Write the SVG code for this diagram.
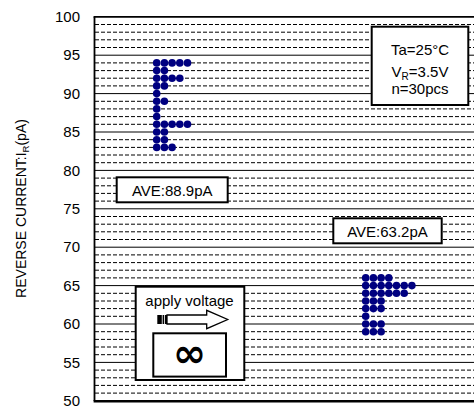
<svg xmlns="http://www.w3.org/2000/svg" width="474" height="410" viewBox="0 0 474 410">
<style>
text{font-family:"Liberation Sans",Arial,sans-serif;fill:#000}
.tick{font-size:15px;text-anchor:end}
.dash{stroke:#000;stroke-width:1;stroke-dasharray:4 2;fill:none}
.solid{stroke:#000;stroke-width:1;fill:none}
.box{fill:#fff;stroke:#000;stroke-width:2}
.dot{fill:#000080}
.lbl{font-size:15px;text-anchor:middle}
</style>
<rect width="474" height="410" fill="#fff"/>
<g id="grid">
<path class="dash" d="M95 24.5H474M95 32.2H474M95 39.8H474M95 47.5H474M95 62.9H474M95 70.6H474M95 78.2H474M95 85.9H474M95 101.3H474M95 108.9H474M95 116.6H474M95 124.3H474M95 139.7H474M95 147.4H474M95 155.0H474M95 162.7H474M95 178.1H474M95 185.8H474M95 193.4H474M95 201.1H474M95 216.5H474M95 224.2H474M95 231.8H474M95 239.5H474M95 254.9H474M95 262.6H474M95 270.2H474M95 277.9H474M95 293.3H474M95 301.0H474M95 308.6H474M95 316.3H474M95 331.7H474M95 339.4H474M95 347.0H474M95 354.7H474M95 370.1H474M95 377.8H474M95 385.4H474M95 393.1H474"/>
<path class="solid" d="M95 55.2H474M95 93.6H474M95 132.0H474M95 170.4H474M95 208.8H474M95 247.2H474M95 285.6H474M95 324.0H474M95 362.4H474"/>
</g>
<g id="axes">
<path d="M94.5 16.8V401" stroke="#000" stroke-width="1.8" fill="none"/>
<path d="M93.6 16.8H474" stroke="#000" stroke-width="1.8" fill="none"/>
<path d="M93.6 401.2H474" stroke="#000" stroke-width="2.6" fill="none"/>
</g>
<g id="ticks">
<text class="tick" x="80" y="22">100</text>
<text class="tick" x="80" y="60.4">95</text>
<text class="tick" x="80" y="98.8">90</text>
<text class="tick" x="80" y="137.2">85</text>
<text class="tick" x="80" y="175.6">80</text>
<text class="tick" x="80" y="214">75</text>
<text class="tick" x="80" y="252.4">70</text>
<text class="tick" x="80" y="290.8">65</text>
<text class="tick" x="80" y="329.2">60</text>
<text class="tick" x="80" y="367.6">55</text>
<text class="tick" x="80" y="406">50</text>
</g>
<text id="ytitle" transform="translate(26 208.5) rotate(-90)" font-size="14" text-anchor="middle">REVERSE CURRENT:I<tspan font-size="9.5" dy="3">R</tspan><tspan dy="-3">(pA)</tspan></text>
<g id="data1">
<g class="dot">
<circle cx="156.7" cy="62.9" r="3.8"/><circle cx="164.4" cy="62.9" r="3.8"/><circle cx="172.1" cy="62.9" r="3.8"/><circle cx="179.8" cy="62.9" r="3.8"/><circle cx="187.5" cy="62.9" r="3.8"/>
<circle cx="156.7" cy="70.6" r="3.8"/><circle cx="164.4" cy="70.6" r="3.8"/>
<circle cx="156.7" cy="78.2" r="3.8"/><circle cx="164.4" cy="78.2" r="3.8"/><circle cx="172.1" cy="78.2" r="3.8"/><circle cx="179.8" cy="78.2" r="3.8"/>
<circle cx="156.7" cy="85.9" r="3.8"/><circle cx="164.4" cy="85.9" r="3.8"/>
<circle cx="156.7" cy="93.6" r="3.8"/>
<circle cx="156.7" cy="101.3" r="3.8"/><circle cx="164.4" cy="101.3" r="3.8"/>
<circle cx="156.7" cy="108.9" r="3.8"/>
<circle cx="156.7" cy="116.6" r="3.8"/>
<circle cx="156.7" cy="124.3" r="3.8"/><circle cx="164.4" cy="124.3" r="3.8"/><circle cx="172.1" cy="124.3" r="3.8"/><circle cx="179.8" cy="124.3" r="3.8"/><circle cx="187.5" cy="124.3" r="3.8"/>
<circle cx="156.7" cy="132.0" r="3.8"/><circle cx="164.4" cy="132.0" r="3.8"/>
<circle cx="156.7" cy="139.7" r="3.8"/><circle cx="164.4" cy="139.7" r="3.8"/>
<circle cx="156.7" cy="147.4" r="3.8"/><circle cx="164.4" cy="147.4" r="3.8"/><circle cx="172.1" cy="147.4" r="3.8"/>
</g>
</g>
<g id="data2">
<g class="dot">
<circle cx="365.7" cy="277.9" r="3.8"/><circle cx="373.4" cy="277.9" r="3.8"/><circle cx="381.1" cy="277.9" r="3.8"/><circle cx="388.8" cy="277.9" r="3.8"/>
<circle cx="365.7" cy="285.6" r="3.8"/><circle cx="373.4" cy="285.6" r="3.8"/><circle cx="381.1" cy="285.6" r="3.8"/><circle cx="388.8" cy="285.6" r="3.8"/><circle cx="396.5" cy="285.6" r="3.8"/><circle cx="404.2" cy="285.6" r="3.8"/><circle cx="411.9" cy="285.6" r="3.8"/>
<circle cx="365.7" cy="293.3" r="3.8"/><circle cx="373.4" cy="293.3" r="3.8"/><circle cx="381.1" cy="293.3" r="3.8"/><circle cx="388.8" cy="293.3" r="3.8"/><circle cx="396.5" cy="293.3" r="3.8"/><circle cx="404.2" cy="293.3" r="3.8"/>
<circle cx="365.7" cy="301.0" r="3.8"/><circle cx="373.4" cy="301.0" r="3.8"/><circle cx="381.1" cy="301.0" r="3.8"/>
<circle cx="365.7" cy="308.6" r="3.8"/><circle cx="373.4" cy="308.6" r="3.8"/><circle cx="381.1" cy="308.6" r="3.8"/>
<circle cx="365.7" cy="316.3" r="3.8"/>
<circle cx="365.7" cy="324.0" r="3.8"/><circle cx="373.4" cy="324.0" r="3.8"/><circle cx="381.1" cy="324.0" r="3.8"/>
<circle cx="365.7" cy="331.7" r="3.8"/><circle cx="373.4" cy="331.7" r="3.8"/><circle cx="381.1" cy="331.7" r="3.8"/>
</g>
</g>
<g id="legend">
<rect class="box" x="371.7" y="26.7" width="96.6" height="78.3"/>
<text class="lbl" x="420" y="54.5">Ta=25°C</text>
<text class="lbl" x="420" y="76.5">V<tspan font-size="10" dy="3">R</tspan><tspan dy="-3">=3.5V</tspan></text>
<text class="lbl" x="420" y="94">n=30pcs</text>
</g>
<g id="ave1">
<rect class="box" x="116.7" y="177.3" width="111" height="25"/>
<text class="lbl" x="172.2" y="196" font-size="16">AVE:88.9pA</text>
</g>
<g id="ave2">
<rect class="box" x="333.3" y="218.3" width="108.4" height="25"/>
<text class="lbl" x="387.5" y="236.7" font-size="16">AVE:63.2pA</text>
</g>
<g id="apply">
<rect class="box" x="135.7" y="286.7" width="108.6" height="93.3"/>
<text class="lbl" x="189.5" y="306" font-size="16">apply voltage</text>
<path d="M167 315H206.7V310.3L227.7 319.5L206.7 328.7V324H167Z" fill="#fff" stroke="#000" stroke-width="1.3"/>
<rect x="157.3" y="315" width="4.5" height="9" fill="#000"/>
<rect x="162.6" y="315" width="1.6" height="9" fill="#000"/>
<rect x="165" y="315" width="2" height="9" fill="#000"/>
<rect class="box" x="153.3" y="333.3" width="72.7" height="43.3"/>
<text x="189.5" y="367" font-size="40" font-weight="bold" text-anchor="middle" style="font-family:'DejaVu Sans',sans-serif">∞</text>
</g>
</svg>
